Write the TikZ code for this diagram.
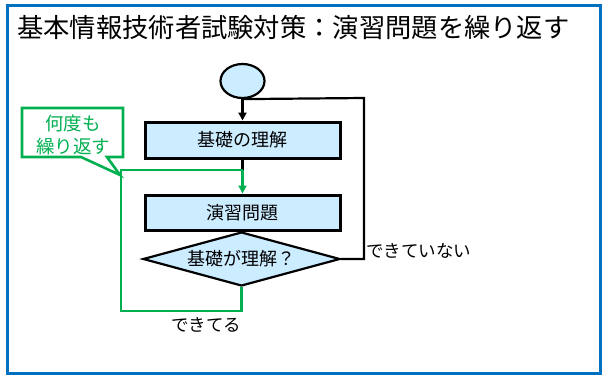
\documentclass[tikz,border=0pt]{standalone}
\usepackage{fontspec}
\setmainfont{Noto Sans CJK JP}
\usetikzlibrary{shapes.geometric,arrows.meta}
\definecolor{frameblue}{HTML}{0070C0}
\definecolor{boxfill}{HTML}{CCECFF}
\definecolor{grn}{HTML}{00B050}
\tikzset{
  x=1pt,y=-1pt,
  procbox/.style={draw=black,line width=3pt,fill=boxfill,minimum width=195pt,minimum height=36pt,inner sep=0pt,font=\fontsize{18}{20}\selectfont},
  decbox/.style={diamond,draw=black,line width=2.2pt,fill=boxfill,minimum width=197pt,minimum height=54pt,aspect=3.65,inner sep=0pt,font=\fontsize{18}{20}\selectfont},
  termbox/.style={ellipse,draw=black,line width=2.2pt,fill=boxfill,minimum width=44pt,minimum height=34pt,inner sep=0pt},
  blk/.style={draw=black,line width=2.2pt},
  gline/.style={draw=grn,line width=2.4pt},
  tip/.style={-{Triangle[length=8pt,width=8pt]}},
  lbl/.style={font=\fontsize{17.5}{19}\selectfont,inner sep=0pt}
}
\begin{document}
\begin{tikzpicture}
\useasboundingbox (0,0) rectangle (602,378);
\draw[draw=frameblue,line width=3pt] (7,5) rectangle (600,373);
\node[anchor=west,inner sep=0pt,font=\fontsize{26.3}{28}\selectfont] (title) at (17,27) {基本情報技術者試験対策：演習問題を繰り返す};

\node[termbox] (e) at (242.5,81) {};
\node[procbox] (b1) at (242.5,140) {基礎の理解};
\node[procbox,minimum height=35pt] (b2) at (242.5,212.5) {演習問題};
\node[decbox] (d) at (241.5,259) {基礎が理解？};

\coordinate (r1) at (364,259);
\coordinate (r2) at (364,98);
\coordinate (j1) at (242.5,170);
\coordinate (g1) at (241.5,311);
\coordinate (g2) at (121,311);
\coordinate (g3) at (121,170);

\draw[blk,tip] (e.south) -- (b1.north);
\draw[blk] (d.east) -- (r1) -- (r2) -- (e.south);
\draw[blk] (b1.south) -- (j1);
\draw[gline] (d.south) -- (g1) -- (g2) -- (g3) -- (j1);
\draw[gline,-{Triangle[length=8pt,width=8pt,fill=grn]}] (j1) -- (b2.north);

\node[lbl,anchor=west] (ng) at (366,251) {できていない};
\node[lbl] (ok) at (206,325) {できてる};

\draw[gline,line width=2.6pt,fill=white] (22,108) -- (123,108) -- (123,157) -- (107,157) -- (120,175) -- (81,157) -- (22,157) -- cycle;
\node[text=grn,align=center,font=\fontsize{18.5}{23}\selectfont,inner sep=0pt] (co) at (73,135) {何度も\\繰り返す};
\end{tikzpicture}
\end{document}
